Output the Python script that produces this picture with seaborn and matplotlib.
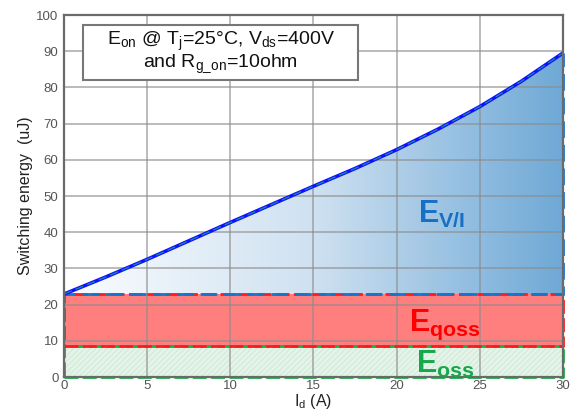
import numpy as np
import pandas as pd
import matplotlib
matplotlib.use("Agg")
import matplotlib.pyplot as plt
from matplotlib.colors import LinearSegmentedColormap
from matplotlib.patches import Rectangle
import seaborn as sns

# Drain current (A) and turn-on switching energy (uJ)
drain_current = [0, 2.5, 5, 7.5, 10, 12.5, 15, 17.5, 20, 22.5, 25, 27.5, 30]
e_on = [22.9, 27.6, 32.5, 37.6, 42.7, 47.7, 52.7, 57.6, 62.8, 68.5, 74.7, 81.7, 89.5]

# Energy components (uJ)
e_oss = 8.6
e_qoss_top = 22.9

x_ticks = [0, 5, 10, 15, 20, 25, 30]
y_ticks = [0, 10, 20, 30, 40, 50, 60, 70, 80, 90, 100]

df = pd.DataFrame({"Id": drain_current, "Eon": e_on})

sns.set_theme(style="whitegrid")
plt.rcParams["font.family"] = ["Liberation Sans", "DejaVu Sans"]
plt.rcParams["mathtext.fontset"] = "custom"
plt.rcParams["mathtext.rm"] = "Liberation Sans"
plt.rcParams["mathtext.bf"] = "Liberation Sans:bold"
plt.rcParams["hatch.linewidth"] = 0.6

fig = plt.figure(figsize=(5.78, 4.11), dpi=100)
ax = fig.add_axes([0.1107, 0.0827, 0.8633, 0.8808])

x0, x1 = drain_current[0], drain_current[-1]

# Gradient-filled E_V/I region between the E_qoss level and the E_on curve
cmap = LinearSegmentedColormap.from_list("evi", ["#fbfdff", "#cfe1f1", "#6fa9d6"])
grad = np.linspace(0, 1, 256).reshape(1, -1)
img = ax.imshow(grad, extent=[x0, x1, 0, 100], aspect="auto", cmap=cmap,
                origin="lower", zorder=1)
poly = ax.fill_between(df["Id"], e_qoss_top, df["Eon"], facecolor="none",
                       edgecolor="none", zorder=1)
clip = poly.get_paths()[0]
img.set_clip_path(clip, transform=ax.transData)

# E_qoss band
ax.fill_between([x0, x1], e_oss, e_qoss_top, facecolor="#ff0000", alpha=0.5,
                edgecolor="none", zorder=1)
# E_oss band
ax.fill_between([x0, x1], 0, e_oss, facecolor="#e4f4e8", edgecolor="none", zorder=1)
ax.fill_between([x0, x1], 0, e_oss, facecolor="none", edgecolor="#cde7d3",
                hatch="//////", linewidth=0, zorder=1)

dash = (0, (5, 1.6))
# Dashed outlines of the bands
ax.plot([x0, x1, x1, x0, x0], [0, 0, e_oss, e_oss, 0], color="#16b04a",
        lw=2.0, ls=dash, zorder=4, clip_on=False)
ax.plot([x0, x1, x1, x0, x0], [e_oss, e_oss, e_qoss_top, e_qoss_top, e_oss],
        color="#ff1a1a", lw=2.0, ls=dash, zorder=5, clip_on=False)
ax.plot([x0, x1, x1], [e_qoss_top, e_qoss_top, e_on[-1]], color="#1a73cc",
        lw=2.0, ls=(2, (6, 2.5)), zorder=5, clip_on=False)

# E_on curve
sns.lineplot(data=df, x="Id", y="Eon", ax=ax, color="#1010ff", lw=2.6, zorder=6)
ax.plot(df["Id"], df["Eon"], color="#1a7fb0", lw=1.0, ls=(0, (6, 3)), zorder=7)

ax.set_xlim(0, 30)
ax.set_ylim(0, 100)
ax.set_xticks(x_ticks)
ax.set_yticks(y_ticks)
ax.set_axisbelow(False)
ax.grid(True, color="#8c8c8c", lw=1.1, alpha=0.75, zorder=3)
ax.set_facecolor("white")
for s in ax.spines.values():
    s.set_color("#6a6a6a")
    s.set_linewidth(1.6)
    s.set_zorder(8)
ax.tick_params(axis="both", length=0, labelsize=9.5, colors="#555555")
ax.tick_params(axis="x", pad=2)
ax.tick_params(axis="y", pad=4)

ax.set_xlabel(r"I$_{\rm d}$ (A)", fontsize=11.5, color="#222222", labelpad=0)
ax.set_ylabel("Switching energy  (uJ)", fontsize=11.5, color="#222222", labelpad=2)

# Condition box
ax.add_patch(Rectangle((1.15, 82.0), 16.55, 15.2, facecolor="white",
                       edgecolor="#777777", lw=1.5, zorder=9))
ax.text(9.42, 89.6,
        "E$_{\\rm on}$ @ T$_{\\rm j}$=25°C, V$_{\\rm ds}$=400V\nand R$_{\\rm g\\_on}$=10ohm",
        fontsize=14, color="#111111", ha="center", va="center", linespacing=0.95,
        zorder=10)

# Component labels
ax.text(22.7, 45.0, r"$\mathbf{E}_{\mathbf{V/I}}$", fontsize=22, color="#1870c4",
        ha="center", va="center", zorder=10)
ax.text(22.9, 14.3, r"$\mathbf{E}_{\mathbf{qoss}}$", fontsize=22, color="#ff0000",
        ha="center", va="center", zorder=10)
ax.text(22.9, 3.5, r"$\mathbf{E}_{\mathbf{oss}}$", fontsize=22, color="#16a84a",
        ha="center", va="center", zorder=10)

fig.savefig("out.png", dpi=100)
